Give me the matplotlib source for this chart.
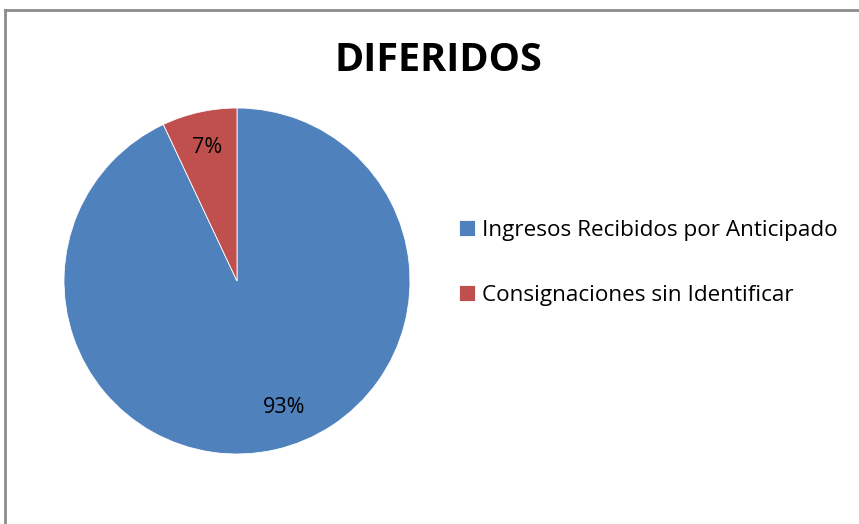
import matplotlib.pyplot as plt
from matplotlib.lines import Line2D

# data
labels = ['Ingresos Recibidos por Anticipado', 'Consignaciones sin Identificar']
shares = [93, 7]
colors = ['#4F81BD', '#C0504D']
title = 'DIFERIDOS'

W, H = 859, 524
fig = plt.figure(figsize=(W / 100, H / 100), dpi=100)
fig.patch.set_facecolor('white')

# grey frame only visible on top and left
fig.add_artist(Line2D([5 / W, 5 / W], [0, 1 - 10 / H], transform=fig.transFigure,
                      color='#8c8c8c', lw=2))
fig.add_artist(Line2D([5 / W, 1], [1 - 10 / H, 1 - 10 / H], transform=fig.transFigure,
                      color='#8c8c8c', lw=2))

cx, cy, r = 237, 281, 173
ax = fig.add_axes([(cx - r) / W, (H - cy - r) / H, 2 * r / W, 2 * r / H])
wedges, texts, autotexts = ax.pie(shares, colors=colors, startangle=90, counterclock=False,
                                  autopct='%1.0f%%', pctdistance=0.79, radius=1,
                                  wedgeprops=dict(edgecolor='white', linewidth=0.6),
                                  textprops=dict(fontsize=15.5, family='Open Sans'))
# Excel puts the big label a bit further right
autotexts[0].set_position((0.27, -0.73))
ax.set_xlim(-1, 1)
ax.set_ylim(-1, 1)
ax.set_aspect('equal')
ax.axis('off')

fig.text(438 / W, 1 - 61 / H, title, ha='center', va='center', fontsize=28.5,
         fontweight='bold', family='Open Sans')

leg = fig.legend(wedges, labels, loc='upper left', bbox_to_anchor=(459 / W, 1 - 220 / H),
                 frameon=False, borderpad=0, borderaxespad=0,
                 handlelength=0.7, handleheight=0.7, handletextpad=0.3,
                 labelspacing=1.95, prop=dict(family='Open Sans', size=16.2))

fig.savefig('out.png', dpi=100)
